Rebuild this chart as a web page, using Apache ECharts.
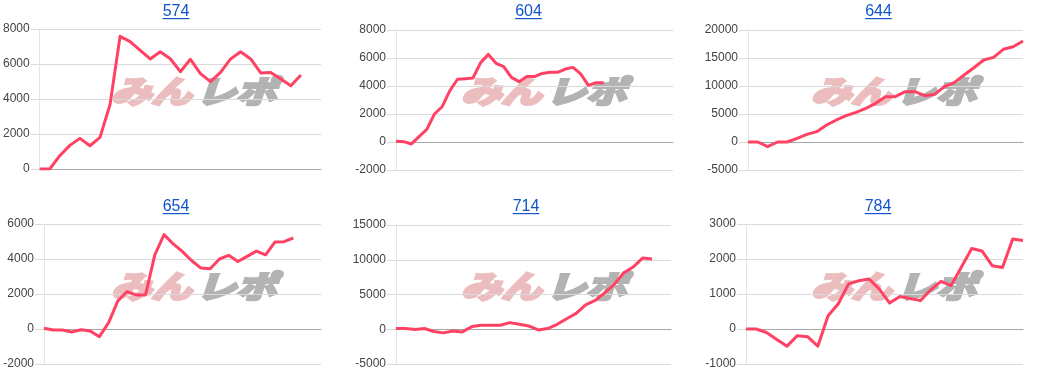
<!DOCTYPE html>
<html>
<head>
<meta charset="utf-8">
<script src="https://cdn.jsdelivr.net/npm/echarts@6/dist/echarts.min.js"></script>
<style>
html,body{margin:0;padding:0;background:#fff;}
#chart{width:1050px;height:388px;}
</style>
</head>
<body>
<div id="chart"></div>
<script>
// ---- data ----
const dayLabels = ['1','2','3','4','5','6','7','8','9','10','11','12','13','14','15','16','17','18','19','20',
  '21','22','23','24','25','26','27','28','29','30','31','32','33','34','35','36','37'];
const titles = ['574', '604', '644', '654', '714', '784'];
const categoryCounts = [29, 37, 29, 31, 30, 28];

const values574 = [0, 0, 760, 1350, 1750, 1330, 1810, 3680, 7580, 7280, 6780, 6290, 6700, 6300, 5560, 6270,
  5450, 4990, 5520, 6290, 6700, 6290, 5490, 5520, 5140, 4760, 5370];
const values604 = [50, 25, -140, 380, 900, 2000, 2520, 3670, 4480, 4520, 4570, 5670, 6260, 5620, 5380, 4620,
  4310, 4670, 4670, 4900, 4980, 4980, 5210, 5330, 4860, 4050, 4240, 4240];
const values644 = [0, 0, -830, 0, 0, 650, 1370, 1850, 3040, 3930, 4700, 5300, 6010, 6900, 8100, 8100, 8990,
  8990, 8270, 8510, 9880, 10600, 11960, 13270, 14640, 15120, 16550, 17020, 18040];
const values654 = [40, -60, -60, -170, -40, -110, -440, 360, 1610, 2140, 1950, 1950, 4240, 5390, 4860, 4420,
  3900, 3480, 3440, 4000, 4210, 3860, 4150, 4450, 4240, 4970, 4990, 5200];
const values714 = [100, 100, -50, 100, -330, -520, -240, -380, 380, 570, 570, 570, 950, 710, 480, -100, 100,
  710, 1520, 2290, 3520, 4140, 5240, 6430, 8100, 8950, 10240, 10100];
const values784 = [0, 0, -100, -300, -490, -190, -220, -490, 380, 720, 1290, 1380, 1430, 1140, 740, 930, 870,
  810, 1120, 1360, 1240, 1770, 2300, 2230, 1810, 1760, 2570, 2530];

const yMins = [0, -2000, -5000, -2000, -5000, -1000];
const yMaxs = [8000, 8000, 20000, 6000, 15000, 3000];
const yIntervals = [2000, 2000, 5000, 2000, 5000, 1000];

const allValues = [values574, values604, values644, values654, values714, values784];

// ---- layout (positions) ----
const gridBoxes = [
  {left: 39, top: 29, width: 282, height: 140},
  {left: 396, top: 30, width: 277, height: 140},
  {left: 748, top: 30, width: 275, height: 140},
  {left: 44, top: 224, width: 277, height: 140},
  {left: 396, top: 225, width: 275, height: 139},
  {left: 746, top: 224, width: 277, height: 140}
];
const titleCenters = [176, 528.5, 878.5, 176, 526, 878];
const cellX = [0, 350, 700, 0, 350, 700];
const rowTop = [0, 0, 0, 195, 195, 195];

const LINE_COLOR = '#ff4263';
const FONT = '"Liberation Sans", Arial, Helvetica, sans-serif';
const WM_FONT = 'italic bold 31px "Noto Sans CJK JP", sans-serif';

const chart = echarts.init(document.getElementById('chart'), null, {renderer: 'canvas'});

const measureCtx = document.createElement('canvas').getContext('2d');
measureCtx.font = '16px ' + FONT;

const grids = [], xAxes = [], yAxes = [], series = [], graphics = [];
for (let i = 0; i < 6; i++) {
  grids.push(Object.assign({}, gridBoxes[i]));
  xAxes.push({
    type: 'category',
    gridIndex: i,
    z: 3,
    data: dayLabels.slice(0, categoryCounts[i]),
    boundaryGap: false,
    axisLine: {show: true, onZero: true, lineStyle: {color: '#a8a8a8', width: 1}},
    axisTick: {show: false},
    axisLabel: {show: false},
    splitLine: {show: false}
  });
  yAxes.push({
    type: 'value',
    gridIndex: i,
    z: 2,
    min: yMins[i],
    max: yMaxs[i],
    interval: yIntervals[i],
    axisLine: {show: true, lineStyle: {color: '#e4e4e4', width: 1}},
    axisTick: {show: true, length: 9, lineStyle: {color: '#dadada'}},
    axisLabel: {color: '#444', fontSize: 12, fontFamily: FONT, margin: 10,
      formatter: function (v) { return String(v); }},
    splitLine: {show: true, lineStyle: {color: '#dadada', width: 1}}
  });
  series.push({
    type: 'line',
    xAxisIndex: i,
    yAxisIndex: i,
    data: allValues[i],
    showSymbol: false,
    smooth: false,
    z: 5,
    lineStyle: {color: LINE_COLOR, width: 3, join: 'round'},
    itemStyle: {color: LINE_COLOR}
  });
  // title text + underline
  const tw = measureCtx.measureText(titles[i]).width;
  graphics.push({
    type: 'text',
    z: 10,
    style: {
      x: titleCenters[i], y: rowTop[i] + 3.5,
      text: titles[i], fill: '#1155cc',
      font: '16px ' + FONT,
      align: 'center', verticalAlign: 'top'
    }
  });
  graphics.push({
    type: 'rect',
    z: 10,
    shape: {x: titleCenters[i] - tw / 2, y: rowTop[i] + 18, width: tw, height: 1.2},
    style: {fill: '#1155cc'}
  });
  // watermark
  graphics.push({
    type: 'text',
    z: 0,
    x: cellX[i] + 111, y: rowTop[i] + 91,
    scaleX: 1.3,
    style: {
      x: 0, y: 0, text: 'みん',
      fill: '#ecbdbe', stroke: '#ecbdbe', lineWidth: 3,
      font: WM_FONT,
      align: 'left', verticalAlign: 'middle'
    }
  });
  graphics.push({
    type: 'text',
    z: 0,
    x: cellX[i] + 196, y: rowTop[i] + 91,
    scaleX: 1.3,
    style: {
      x: 0, y: 0, text: 'レポ',
      fill: '#b3b3b3', stroke: '#b3b3b3', lineWidth: 3,
      font: WM_FONT,
      align: 'left', verticalAlign: 'middle'
    }
  });
}

chart.setOption({
  animation: false,
  backgroundColor: '#fff',
  grid: grids,
  xAxis: xAxes,
  yAxis: yAxes,
  series: series,
  graphic: graphics
});
</script>
</body>
</html>
